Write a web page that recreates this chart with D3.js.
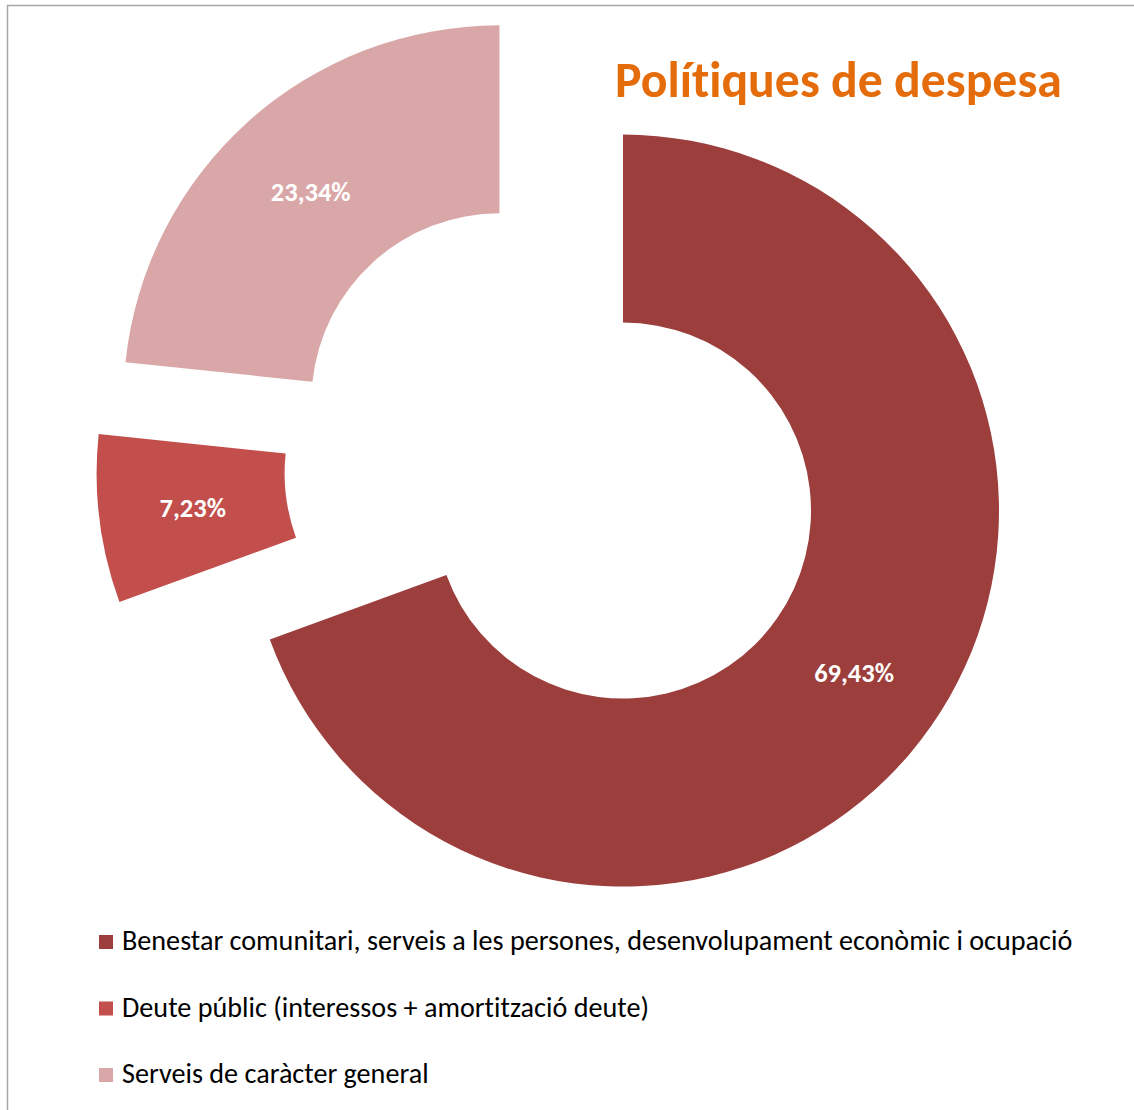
<!DOCTYPE html>
<html>
<head>
<meta charset="utf-8">
<script src="https://cdn.jsdelivr.net/npm/d3@7"></script>
<style>
  html, body { margin: 0; padding: 0; background: #ffffff; }
  svg { display: block; }
  text { font-variant-ligatures: none; font-feature-settings: "liga" 0, "clig" 0; }
</style>
</head>
<body>
<svg id="chart" width="1134" height="1110"></svg>
<script>
// ---- Data ----
const categories = [
  "Benestar comunitari, serveis a les persones, desenvolupament econòmic i ocupació",
  "Deute públic (interessos + amortització deute)",
  "Serveis de caràcter general"
];
const values = [69.43, 7.23, 23.34];
const colors = ["#9C3E3C", "#C24F4C", "#D9A7A7"];
const title = "Polítiques de despesa";

// ---- Layout ----
const W = 1134, H = 1110;
const cx = 555, cy = 463;
const outerR = 376, innerR = 188;
const explode = 83;
const fontFamily = "Carlito, Calibri, Lato, 'Open Sans', sans-serif";

const svg = d3.select("#chart");

// chart area border (top + left visible)
svg.append("rect")
  .attr("x", 7.5).attr("y", 5.5)
  .attr("width", W + 20).attr("height", H + 20)
  .attr("fill", "#ffffff")
  .attr("stroke", "#a6a6a6")
  .attr("stroke-width", 1.5);

const pie = d3.pie().sort(null).value(d => d).startAngle(0).endAngle(2 * Math.PI);
const arcs = pie(values);
const arc = d3.arc().innerRadius(innerR).outerRadius(outerR);

const g = svg.append("g").attr("transform", `translate(${cx},${cy})`);

const slices = g.selectAll("g.slice")
  .data(arcs)
  .enter().append("g")
  .attr("class", "slice")
  .attr("transform", d => {
    const a = (d.startAngle + d.endAngle) / 2;
    return `translate(${explode * Math.sin(a)},${-explode * Math.cos(a)})`;
  });

slices.append("path")
  .attr("d", arc)
  .attr("fill", (d, i) => colors[i]);

const fmt = v => d3.format(".2f")(v).replace(".", ",") + "%";

slices.append("text")
  .attr("transform", d => `translate(${arc.centroid(d)})`)
  .attr("text-anchor", "middle")
  .attr("dy", "0.36em")
  .attr("fill", "#ffffff")
  .attr("font-family", fontFamily)
  .attr("font-weight", "bold")
  .attr("font-size", 26.5)
  .text(d => fmt(d.data));

// ---- Title ----
const titleText = svg.append("text")
  .attr("x", 615).attr("y", 97)
  .attr("fill", "#E46C0A")
  .attr("font-family", fontFamily)
  .attr("font-weight", "bold")
  .attr("font-size", 46)
  .text(title);
{
  const w = titleText.node().getComputedTextLength();
  const target = 447;
  titleText.attr("font-size", 46 * target / w);
}

// ---- Legend ----
const legend = svg.append("g");
const rowY = [950, 1016.5, 1083];
const items = legend.selectAll("g.item")
  .data(categories)
  .enter().append("g")
  .attr("class", "item")
  .attr("transform", (d, i) => `translate(0,${rowY[i]})`);

items.append("rect")
  .attr("x", 99).attr("y", -15)
  .attr("width", 14).attr("height", 14)
  .attr("fill", (d, i) => colors[i]);

const legTexts = items.append("text")
  .attr("x", 122).attr("y", 0)
  .attr("fill", "#000000")
  .attr("font-family", fontFamily)
  .attr("font-size", 24)
  .text(d => d);
{
  const w0 = legTexts.nodes()[0].getComputedTextLength();
  const fs = 24 * 951 / w0;
  legTexts.attr("font-size", fs);
}
</script>
</body>
</html>
